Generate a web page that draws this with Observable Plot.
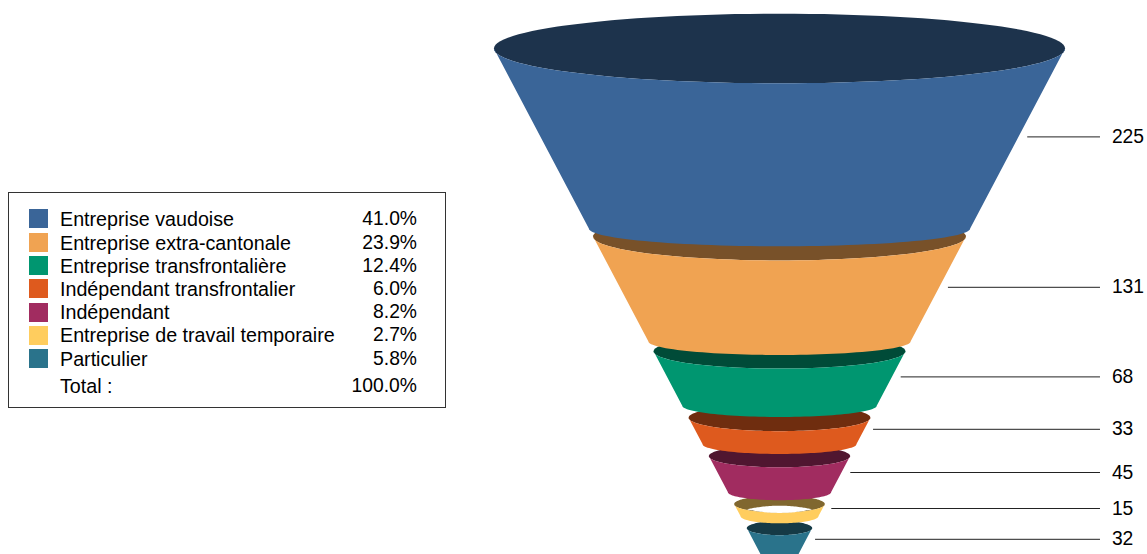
<!DOCTYPE html>
<html><head><meta charset="utf-8">
<script src="https://cdn.jsdelivr.net/npm/d3@7"></script>
<script src="https://cdn.jsdelivr.net/npm/@observablehq/plot@0.6"></script>
<style>
html,body{margin:0;padding:0;background:#fff}
#wrap{position:relative;width:1147px;height:554px;overflow:hidden;font-family:"Liberation Sans",Arial,sans-serif}
#wrap svg{display:block;position:absolute;left:0;top:0}
#legend{position:absolute;left:8px;top:192px;width:436px;height:214px;border:1px solid #333;background:#fff;color:#000}
#legend .sw{position:absolute;left:20px;width:19px;height:19px}
#legend .nm,#legend .pc{position:absolute;line-height:22px;white-space:nowrap}
#legend .nm{left:51px;font-size:19.7px}
#legend .pc{right:28px;font-size:19.3px}
</style></head>
<body><div id="wrap"></div>
<script>
const categories = ["Entreprise vaudoise","Entreprise extra-cantonale","Entreprise transfrontalière","Indépendant transfrontalier","Indépendant","Entreprise de travail temporaire","Particulier"];
const counts = [225,131,68,33,45,15,32];
const shares = ["41.0%","23.9%","12.4%","6.0%","8.2%","2.7%","5.8%"];
const colors = ["#3A6598","#F0A352","#009670","#DE5A1E","#A12C60","#FFCD5E","#2A738B"];
const darks  = ["#1D334C","#785129","#004B38","#6F2D0F","#501630","#80672F","#153A46"];
const gaps = [10,12.5,15,15,15,15];   // spacing between funnel sections, in count units
const apex = 677;                     // where the cone would close, in count units
const totalLabel = "Total :", totalShare = "100.0%";

const W = 1147, H = 554, cx = 779, pxY = 0.8, pxX = 0.4218, top0 = 48;
const ARC = d3.range(0, 181, 3).map(d => d * Math.PI / 180);
const LOOP = [...ARC, ...ARC.map(a => a + Math.PI)];

// funnel layout derived from the counts
let pos = 0;
const sections = counts.map((c, i) => {
  const t = pos, b = pos + c;
  pos = b + (gaps[i] || 0);
  const hwT = apex - t, hwB = apex - b;
  return {i, c, t, b, hwT, hwB, ryT: .0578 * hwT + 4.375, ryB: .0368 * hwB + 5.625, mid: (t + b) / 2 - 2, hwM: apex - (t + b) / 2};
});

const rim = s => LOOP.map(a => ({x: s.hwT * Math.cos(a), y: s.t + s.ryT * Math.sin(a)}));
const band = s => [
  ...ARC.map(a => ({x: -s.hwT * Math.cos(a), y: s.t + s.ryT * Math.sin(a)})),
  ...ARC.map(a => ({x: s.hwB * Math.cos(a), y: s.b + s.ryB * Math.sin(a)}))
];
const yellow = sections[5];
const opening = LOOP.map(a => ({
  x: .72 * yellow.hwT * Math.cos(a),
  y: yellow.t + 6.5 + 4.5 * Math.sign(Math.sin(a)) * Math.sin(a) ** 2
}));

const marks = [];
[...sections].reverse().forEach(s => {
  marks.push(Plot.line(rim(s), {x: "x", y: "y", fill: darks[s.i], stroke: "none"}));
  marks.push(Plot.line(band(s), {x: "x", y: "y", fill: colors[s.i], stroke: "none"}));
  if (s.i === 5) marks.push(Plot.line(opening, {x: "x", y: "y", fill: "#fff", stroke: "none"}));
});

marks.push(Plot.ruleY(sections, {y: "mid", x1: d => d.hwM + 24, x2: 761, stroke: "#222", strokeWidth: 1}));
marks.push(Plot.text(sections, {x: 788, y: "mid", text: d => String(d.c), textAnchor: "start", fontSize: 19.3, fontFamily: "Liberation Sans, Arial, sans-serif", fill: "#000"}));

const chart = Plot.plot({
  width: W, height: H, margin: 0, style: {background: "transparent"},
  x: {domain: [-cx / pxX, (W - cx) / pxX], range: [0, W], axis: null},
  y: {domain: [-top0 / pxY, (H - top0) / pxY], range: [0, H], axis: null},
  marks
});
const wrap = document.getElementById("wrap");
wrap.appendChild(chart);

// legend
const lg = document.createElement("div"); lg.id = "legend";
const swTop = [16,40,63,86,110,133,156];
const rowTop = [15,39,62,85,108,131,155];
categories.forEach((n, i) => {
  const sw = document.createElement("div"); sw.className = "sw"; sw.style.top = swTop[i] + "px"; sw.style.background = colors[i]; lg.appendChild(sw);
  const a = document.createElement("div"); a.className = "nm"; a.style.top = rowTop[i] + "px"; a.textContent = n; lg.appendChild(a);
  const b = document.createElement("div"); b.className = "pc"; b.style.top = rowTop[i] + "px"; b.textContent = shares[i]; lg.appendChild(b);
});
const ta = document.createElement("div"); ta.className = "nm"; ta.style.top = "182px"; ta.textContent = totalLabel; lg.appendChild(ta);
const tb = document.createElement("div"); tb.className = "pc"; tb.style.top = "182px"; tb.textContent = totalShare; lg.appendChild(tb);
wrap.appendChild(lg);
</script></body></html>
